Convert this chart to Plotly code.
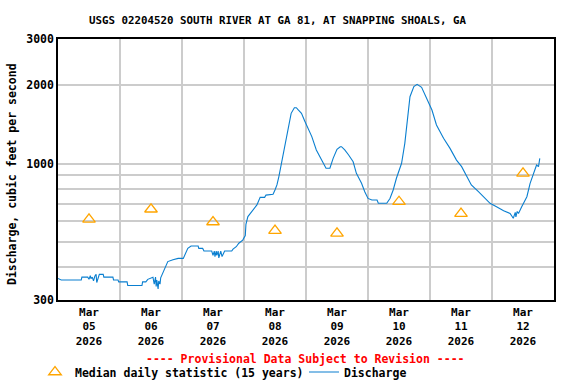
import pandas as pd
import plotly.graph_objects as go

# ---- data ----
start = "2026-03-05"
hours = [0, 1.25, 9, 9.25, 11.5, 12, 12.5, 12.75, 13.25, 13.75, 14.25, 14.75, 15, 16, 17.5,
         17.75, 21.25, 21.5, 23.25, 23.5, 26.75, 27, 32.5, 32.75, 34, 34.75, 36.75, 37.25,
         37.75, 38, 38.25, 38.75, 39, 39.5, 39.75, 40.5, 41.5, 42.25, 42.5, 44.5, 46.5, 48.5,
         49.25, 50.25, 51.5, 54.25, 54.5, 56, 56.5, 59.5, 60, 60.5, 60.75, 61.25, 61.5, 62,
         62.25, 62.75, 63, 63.5, 64, 64.5, 67.25, 67.75, 69, 70, 71.5, 72.5, 72.75, 73.5,
         74.25, 75.5, 77, 78.25, 80, 80.5, 83.25, 84, 84.75, 85.5, 86.5, 87.5, 89, 90.25,
         91.5, 92.25, 93, 94.25, 95.5, 96.25, 98.25, 100, 102, 103.75, 105.25, 106.5, 108,
         109.25, 109.75, 111, 112.5, 114.25, 115.5, 117.5, 118.75, 120, 121.5, 123.5, 124,
         127.25, 128.5, 129.75, 131, 133, 134.25, 135.25, 136.25, 137.75, 139, 140.75, 142.75,
         144.75, 146.5, 149.25, 151.75, 154.25, 156.25, 158.25, 160, 162.75, 165.25, 167.25,
         169.75, 172.5, 175, 175.75, 176.25, 177, 177.25, 177.75, 178.25, 179.5, 181.5,
         182.75, 184.75, 185.25, 186, 186.5]
discharge = [363, 358, 358, 367, 367, 360, 372, 362, 367, 355, 370, 376, 350, 376, 376,
             367, 367, 358, 358, 352, 352, 341, 341, 352, 352, 360, 367, 345,
             367, 338, 358, 331, 355, 345, 365, 380, 400, 421, 421, 428, 433, 433,
             448, 473, 483, 483, 473, 473, 462, 462, 445, 462, 440, 462, 445, 462,
             435, 455, 462, 440, 455, 462, 462, 470, 480, 495, 509, 530, 585, 626,
             640, 665, 694, 742, 742, 757, 763, 792, 828, 891, 1002, 1143, 1384, 1557,
             1636, 1636, 1604, 1557, 1455, 1405, 1268, 1127, 1031, 959, 959, 1047, 1133,
             1160, 1160, 1127, 1078, 1016, 917, 840, 780, 735, 725, 725, 704,
             704, 735, 792, 878, 1002, 1195, 1468, 1803, 1970, 2011, 1959, 1777,
             1604, 1405, 1249, 1143, 1031, 973, 891, 828, 780, 735, 704,
             683, 659, 644, 630, 617, 650, 625, 655, 644, 683, 746,
             840, 944, 987, 973, 1047]

median_days = ["2026-03-05 12:00", "2026-03-06 12:00", "2026-03-07 12:00", "2026-03-08 12:00",
               "2026-03-09 12:00", "2026-03-10 12:00", "2026-03-11 12:00", "2026-03-12 12:00"]
median_values = [611, 668, 597, 553, 540, 714, 643, 917]

tick_text = ["Mar<br>05<br>2026", "Mar<br>06<br>2026", "Mar<br>07<br>2026", "Mar<br>08<br>2026",
             "Mar<br>09<br>2026", "Mar<br>10<br>2026", "Mar<br>11<br>2026", "Mar<br>12<br>2026"]
y_tickvals = [300, 400, 500, 600, 700, 800, 900, 1000, 2000, 3000]
y_ticktext = ["300", "", "", "", "", "", "", "1000", "2000", "3000"]

times = pd.Timestamp(start) + pd.to_timedelta(hours, unit="h")

FONT = "DejaVu Sans Mono"

fig = go.Figure()
fig.add_trace(go.Scatter(
    x=median_days, y=median_values, mode="markers",
    name="Median daily statistic (15 years)", legend="legend",
    marker=dict(symbol="triangle-up-open", size=11, color="#ffa500", line=dict(width=1.3)),
))
fig.add_trace(go.Scatter(
    x=times, y=discharge, mode="lines", name="Discharge", legend="legend2",
    line=dict(color="#0a7fd0", width=1.1),
))

legend_common = dict(orientation="h", xref="container", yref="container",
                     xanchor="left", y=(384 - 372) / 384, yanchor="middle",
                     font=dict(family=FONT, size=11.5, weight="bold"),
                     itemwidth=30, bgcolor="rgba(0,0,0,0)", borderwidth=0)

fig.update_layout(
    template="none",
    width=576, height=384,
    margin=dict(l=58, r=22, t=39, b=84, autoexpand=False),
    paper_bgcolor="white", plot_bgcolor="white",
    font=dict(family=FONT, size=11.5, color="black", weight="bold"),
    showlegend=True,
    legend=dict(x=35 / 576, **legend_common),
    legend2=dict(x=304 / 576, **legend_common),
)
fig.update_xaxes(
    type="date", range=["2026-03-05 00:00", "2026-03-13 00:00"],
    tickmode="array", tickvals=median_days, ticktext=tick_text,
    tickfont=dict(size=11),
    ticks="", showgrid=False, showline=True, linecolor="black", linewidth=1.5, mirror=True,
    minor=dict(dtick=86400000, tick0="2026-03-05", showgrid=True, gridcolor="#cccccc", gridwidth=1.5, ticks=""),
    zeroline=False, automargin=False, ticklabelstandoff=1,
)
fig.update_yaxes(
    type="log", range=[2.4771213, 3.4771213],
    tickmode="array", tickvals=y_tickvals, ticktext=y_ticktext,
    ticks="", showgrid=True, gridcolor="#cccccc", gridwidth=1.5, automargin=False,
    showline=True, linecolor="black", linewidth=1.5, mirror=True, zeroline=False,
)

fig.add_annotation(text="USGS 02204520 SOUTH RIVER AT GA 81, AT SNAPPING SHOALS, GA",
                   xref="paper", yref="paper", x=(277.5 - 58) / 496, y=(300 - 20) / 261,
                   xanchor="center", yanchor="middle", showarrow=False,
                   font=dict(family=FONT, size=10.8, weight="bold"))
fig.add_annotation(text="Discharge, cubic feet per second",
                   xref="paper", yref="paper", x=(12 - 58) / 496, y=(300 - 174) / 261,
                   xanchor="center", yanchor="middle", showarrow=False, textangle=-90,
                   font=dict(family=FONT, size=11.5, weight="bold"))
fig.add_annotation(text="---- Provisional Data Subject to Revision ----",
                   xref="paper", yref="paper", x=(305.5 - 58) / 496, y=(300 - 359) / 261,
                   xanchor="center", yanchor="middle", showarrow=False,
                   font=dict(family=FONT, size=11.5, weight="bold", color="#ff0000"))

fig.write_html("out.html", config={"displayModeBar": False},
               post_script="document.body.style.margin='0';document.body.style.padding='0';")
